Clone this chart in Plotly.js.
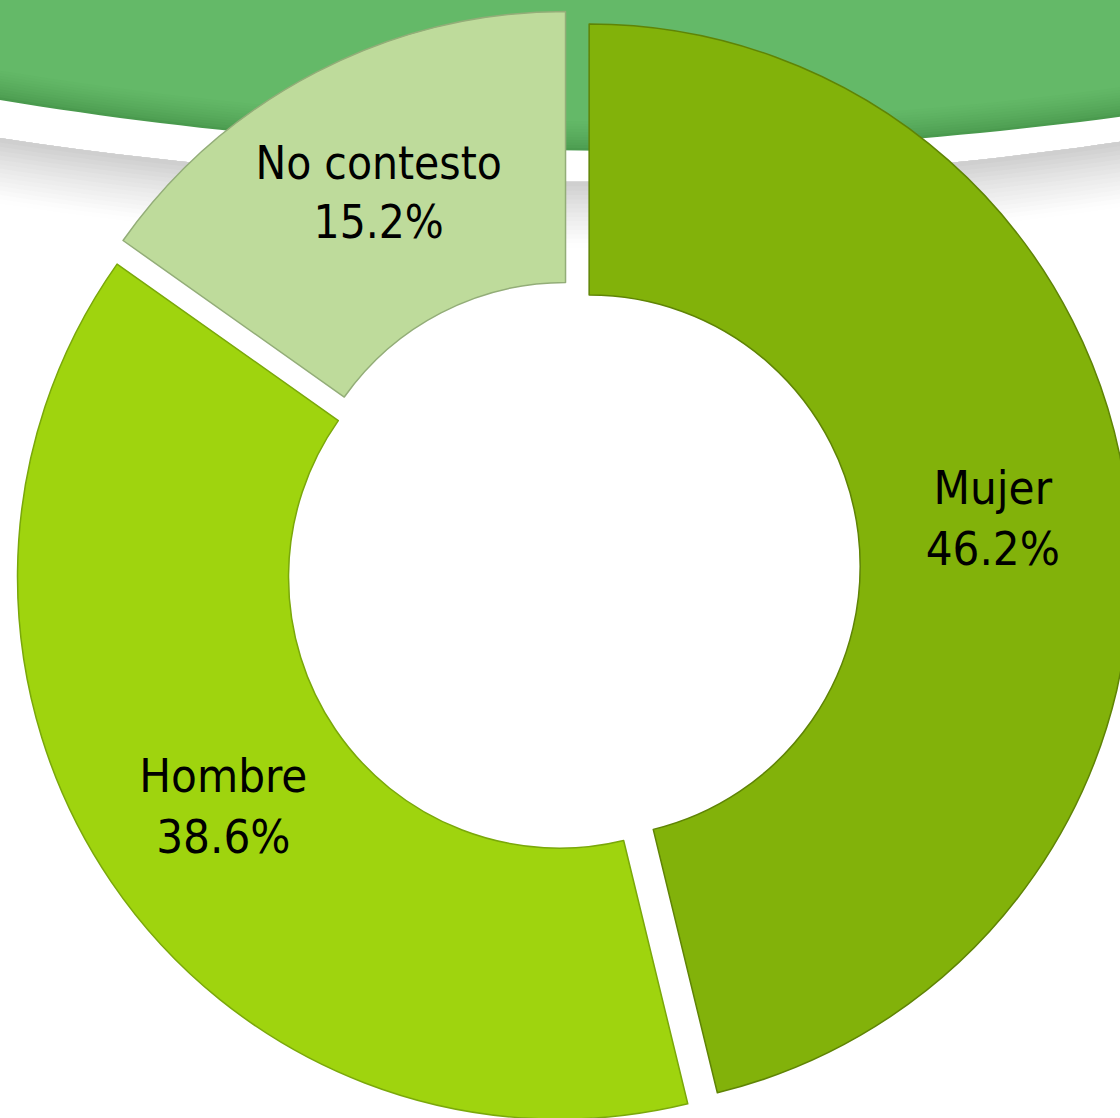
<!DOCTYPE html>
<html>
<head>
<meta charset="utf-8">
<script src="https://cdn.plot.ly/plotly-3.0.1.min.js"></script>
<style>
html,body{margin:0;padding:0;overflow:hidden;background:#fff;width:1120px;height:1118px;}
#chart{position:absolute;left:0;top:0;width:1180px;height:1180px;}
</style>
</head>
<body>
<div id="chart"></div>
<script>
// Data
const categories = ["Mujer", "Hombre", "No contesto"];
const shares = [46.2, 38.6, 15.2];
const sliceColors = ["#82b20a", "#9fd40e", "#bedb9b"];
const edgeColors = ["#5f8405", "#7aa80a", "#93ad78"];

const W = 1180, H = 1180;
function P(x, y) { return (x / W).toFixed(4) + "," + (1 - y / H).toFixed(4); }
// decorative header band lower edge (pixels)
function edgeY(x) { return 100 + 0.165 * x - 0.000134 * x * x; }
function whiteW(x) { return 38 - 13 * x / 1120; }
function bandPath(f1, f2) {
  const xs = [];
  for (let x = 0; x <= 1180; x += 20) xs.push(x);
  let d = "M" + P(0, f1(0));
  xs.forEach(x => { d += " L" + P(x, f1(x)); });
  xs.slice().reverse().forEach(x => { d += " L" + P(x, f2(x)); });
  return d + " Z";
}
function mix(a, b, t) {
  const ca = [parseInt(a.substr(1,2),16), parseInt(a.substr(3,2),16), parseInt(a.substr(5,2),16)];
  const cb = [parseInt(b.substr(1,2),16), parseInt(b.substr(3,2),16), parseInt(b.substr(5,2),16)];
  return "rgb(" + ca.map((v, i) => Math.round(v + (cb[i] - v) * t)).join(",") + ")";
}

const shapes = [];
function addBand(f1, f2, color) {
  shapes.push({type: "path", xref: "paper", yref: "paper", layer: "below", line: {width: 0},
               fillcolor: color, path: bandPath(f1, f2)});
}
// gray soft shadow below the white strip (nested, widest/lightest first)
const NG = 16;
for (let i = 0; i < NG; i++) {
  const depth = 70 * (NG - i) / NG;
  addBand(x => edgeY(x) + whiteW(x), x => edgeY(x) + whiteW(x) + depth,
          mix("#ffffff", "#cfcfcf", Math.pow(i / (NG - 1), 1.3)));
}
// green header (nested, darkest lower edge first)
const NGr = 12;
for (let i = 0; i < NGr; i++) {
  const inset = 32 * i / NGr;
  addBand(x => -5, x => edgeY(x) - inset, mix("#4a9a4e", "#64b968", Math.pow(i / (NGr - 1), 0.7)));
}

const trace = {
  type: "pie",
  labels: categories,
  values: shares,
  sort: false,
  direction: "clockwise",
  rotation: 0,
  hole: 0.5,
  pull: [0.03, 0.03, 0.03],
  marker: {colors: sliceColors, line: {color: edgeColors, width: 1.5}},
  texttemplate: "%{label}<br>%{percent:.1%}",
  textposition: "inside",
  insidetextorientation: "horizontal",
  textfont: {family: "'DejaVu Sans Condensed', 'DejaVu Sans', sans-serif", size: 47, color: "#000000"},
  domain: {x: [0.01246, 0.95873], y: [0.04551, 0.99178]},
  showlegend: false,
  hoverinfo: "label+percent"
};

const layout = {
  width: W, height: H,
  margin: {l: 0, r: 0, t: 0, b: 0, pad: 0},
  paper_bgcolor: "#ffffff",
  showlegend: false,
  shapes: shapes
};

Plotly.newPlot("chart", [trace], layout, {displayModeBar: false, staticPlot: true});
</script>
</body>
</html>
